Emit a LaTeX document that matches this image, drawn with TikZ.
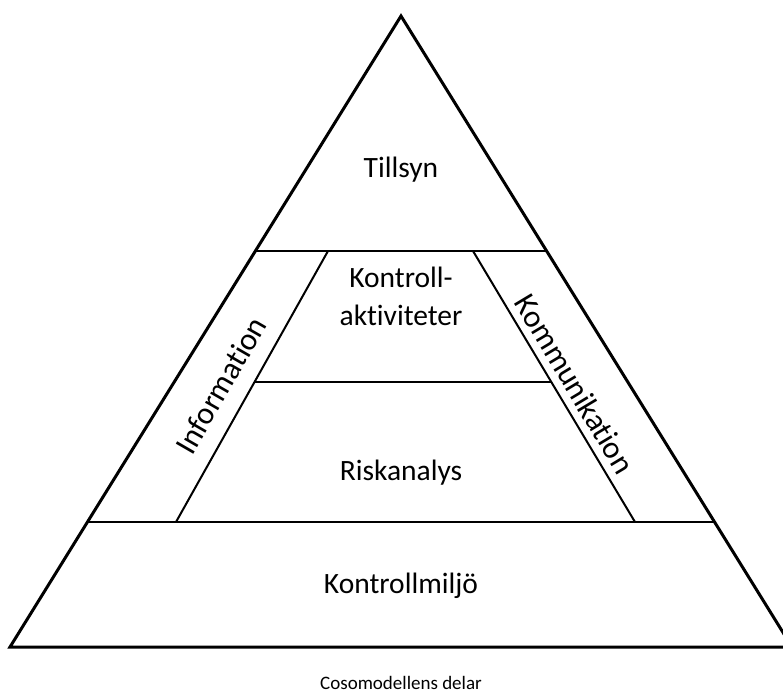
\documentclass[tikz,border=0pt]{standalone}
\usepackage{fontspec}
\setmainfont[Ligatures=NoCommon]{Carlito}
\usetikzlibrary{calc}
\begin{document}
\begin{tikzpicture}[x=1pt, y=-1pt,
  layer/.style={font=\fontsize{29.5}{36}\selectfont, inner sep=0pt},
  sidetext/.style={font=\fontsize{31.5}{38}\selectfont, inner sep=0pt},
  caption/.style={font=\fontsize{19}{23}\selectfont, inner sep=0pt},
  outline/.style={line width=3pt, line join=miter},
  divider/.style={line width=2.6pt},
  slant/.style={line width=2pt}]
\useasboundingbox (0,0) rectangle (783,695);
\clip (0,0) rectangle (783,695);
% corners of the pyramid
\coordinate (apex) at (401,16);
\coordinate (left) at (10,647);
\coordinate (right) at (792,647);
\draw [outline] (apex) -- (left) -- (right) -- cycle;
% horizontal layers
\coordinate (topL) at ($(apex)!0.3724!(left)$);
\coordinate (topR) at ($(apex)!0.3724!(right)$);
\coordinate (lowL) at ($(apex)!0.8019!(left)$);
\coordinate (lowR) at ($(apex)!0.8019!(right)$);
\draw [divider] (topL) -- (topR);
\draw [divider] (lowL) -- (lowR);
% side bands
\coordinate (inA) at (328,251);
\coordinate (inB) at (176,522);
\coordinate (inC) at (473,251);
\coordinate (inD) at (635,522);
\draw [slant] (inA) -- (inB);
\draw [slant] (inC) -- (inD);
\draw [divider] ($(inA)!0.4834!(inB)$) -- ($(inC)!0.4834!(inD)$);
% texts
\node [layer, anchor=base] (tillsyn) at (401,177) {Tillsyn};
\node [layer, anchor=base] (kontroll) at (401,287) {Kontroll-};
\node [layer, anchor=base] (aktiv) at (401,325) {aktiviteter};
\node [layer, anchor=base] (risk) at (401,480) {Riskanalys};
\node [layer, anchor=base] (miljo) at (401,593) {Kontrollmiljö};
\node [sidetext, rotate=60] (info) at (221,385) {Information};
\node [sidetext, rotate=-59] (komm) at (575,384) {Kommunikation};
\node [caption, anchor=base] (title) at (401,689) {Cosomodellens delar};
\end{tikzpicture}
\end{document}
